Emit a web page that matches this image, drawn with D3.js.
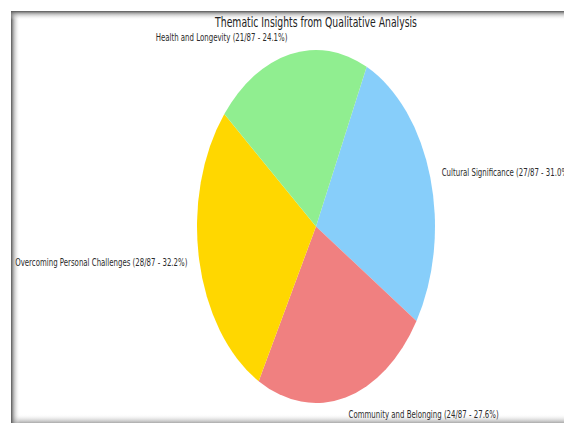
<!DOCTYPE html>
<html><head><meta charset="utf-8">
<script src="https://cdn.jsdelivr.net/npm/d3@7"></script>
<style>body{margin:0;background:#fff;overflow:hidden}</style></head>
<body><svg id="c" width="564" height="423"></svg>
<script>
const categories = ["Cultural Significance","Community and Belonging","Overcoming Personal Challenges","Health and Longevity"];
const counts = [27, 24, 28, 21];
const totalLabel = 87;
const colors = ["#87CEFA","#F08080","#FFD700","#90EE90"];
const titleText = "Thematic Insights from Qualitative Analysis";

const svg = d3.select("#c");
const W = 564, H = 423;
const defs = svg.append("defs");
function grad(id, x1,y1,x2,y2, stops){
  const g = defs.append("linearGradient").attr("id",id).attr("x1",x1).attr("y1",y1).attr("x2",x2).attr("y2",y2);
  stops.forEach(s=>g.append("stop").attr("offset",s[0]).attr("stop-color",s[1]).attr("stop-opacity",s[2]));
}
grad("gTop",0,0,0,1,[[0,"#555",1],[0.35,"#999",0.6],[1,"#fff",0]]);
grad("gLeft",0,0,1,0,[[0,"#555",1],[0.35,"#999",0.6],[1,"#fff",0]]);
grad("gBot",0,0,0,1,[[0,"#fff",0],[1,"#aaa",1]]);

svg.append("rect").attr("width",W).attr("height",H).attr("fill","#fff");
const fx = 11, fy = 11;
svg.append("rect").attr("x",fx).attr("y",fy).attr("width",W-fx).attr("height",H-fy).attr("fill","#fff");
svg.append("rect").attr("x",fx).attr("y",H-9).attr("width",W-fx).attr("height",9).attr("fill","url(#gBot)");
svg.append("rect").attr("x",fx).attr("y",fy).attr("width",9).attr("height",H-fy).attr("fill","url(#gLeft)");
svg.append("rect").attr("x",fx).attr("y",fy).attr("width",W-fx).attr("height",9).attr("fill","url(#gTop)");

const cx = 316, cy = 226.5, rx = 119, ry = 176.5;
const sx = rx/ry;
const start = 25.2*Math.PI/180;
const pie = d3.pie().sort(null).startAngle(start).endAngle(start+2*Math.PI)(counts);
const arc = d3.arc().innerRadius(0).outerRadius(ry);
const g = svg.append("g").attr("transform",`translate(${cx},${cy}) scale(${sx},1)`);
g.selectAll("path").data(pie).join("path").attr("d",arc).attr("fill",(d,i)=>colors[i]);

const labelScale = 0.70, titleScale = 0.687;
const font = "DejaVu Sans";
pie.forEach((d,i)=>{
  const a = (d.startAngle+d.endAngle)/2;
  const x = cx + 1.1*rx*Math.sin(a);
  const y = cy - 1.1*ry*Math.cos(a);
  const pct = (counts[i]/totalLabel*100).toFixed(1);
  svg.append("text")
    .attr("transform",`translate(${x},${y}) scale(${labelScale},1)`)
    .attr("text-anchor", Math.sin(a)>0 ? "start":"end")
    .attr("dominant-baseline","central")
    .attr("font-family",font).attr("font-size",10).attr("fill","#2b2b2b")
    .text(`${categories[i]} (${counts[i]}/${totalLabel} - ${pct}%)`);
});
svg.append("text")
  .attr("transform",`translate(${cx},${22}) scale(${titleScale},1)`)
  .attr("text-anchor","middle").attr("dominant-baseline","central")
  .attr("font-family",font).attr("font-size",13.5).attr("fill","#222")
  .text(titleText);
</script></body></html>
